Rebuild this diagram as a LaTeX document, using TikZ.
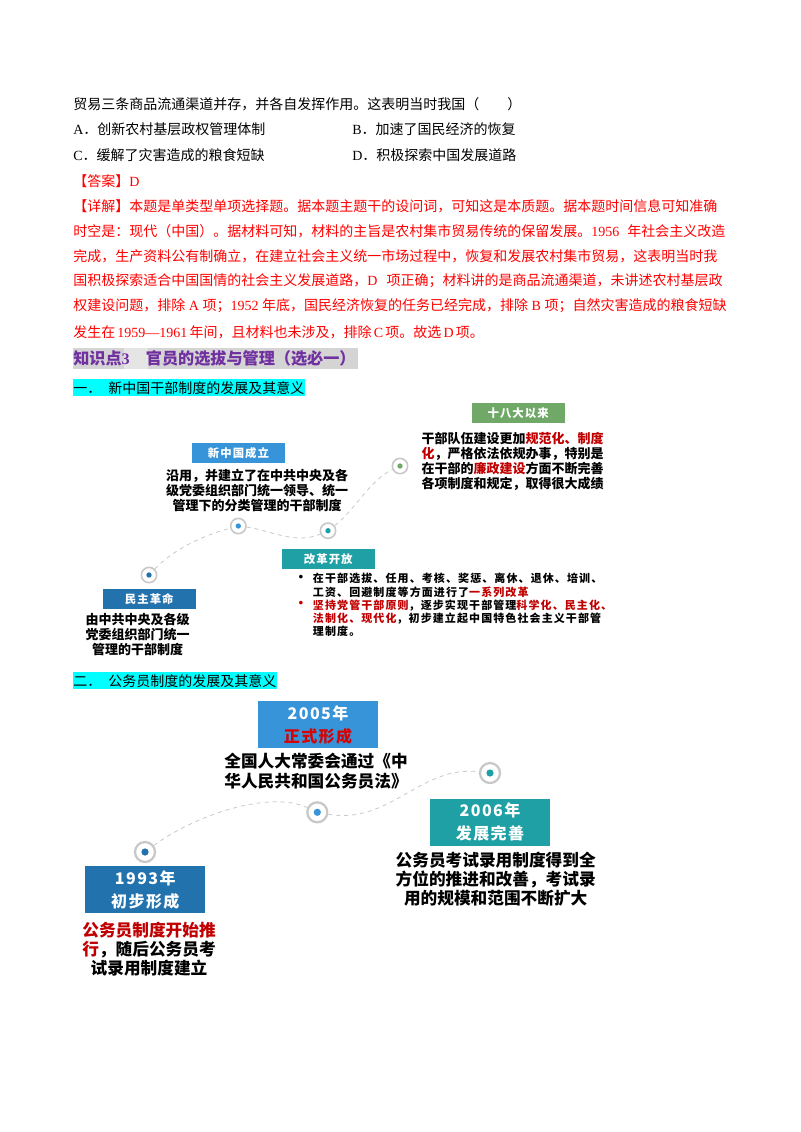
\documentclass[tikz,border=0pt]{standalone}
\usepackage{fontspec}
\setmainfont{Liberation Serif}
\newfontfamily\cjk{Noto Sans CJK SC}
\newfontfamily\cjkwide[LetterSpace=9]{Noto Sans CJK SC}
\newfontfamily\cjksmall[LetterSpace=10]{Noto Sans CJK SC}
\XeTeXlinebreaklocale "zh"
\XeTeXlinebreakskip=0pt plus 3pt minus 0.5pt
\definecolor{blueone}{HTML}{2272AE}
\definecolor{bluetwo}{HTML}{3894D8}
\definecolor{tealone}{HTML}{1FA0A5}
\definecolor{greenone}{HTML}{70A868}
\definecolor{ringgray}{HTML}{C8C8C8}
\definecolor{darkred}{HTML}{C00000}
\definecolor{purpleone}{HTML}{7030A0}
\definecolor{aquaback}{HTML}{00FFFF}
\tikzstyle{bodytext}=[anchor=west, inner sep=0pt, font=\fontsize{10.5}{12}\selectfont\cjk]
\tikzstyle{smallbox}=[inner sep=0pt, minimum width=69.75pt, minimum height=14.6pt, text=white, font=\fontsize{8.55}{9}\selectfont\cjkwide\bfseries]
\tikzstyle{bigbox}=[inner sep=0pt, align=center, minimum width=90pt, minimum height=35.5pt, text=white, font=\fontsize{12}{17.5}\selectfont\cjkwide\bfseries]
\tikzstyle{notetext}=[inner sep=0pt, align=center, font=\fontsize{9.75}{11.25}\selectfont\cjk\bfseries]
\tikzstyle{bigtext}=[inner sep=0pt, align=center, font=\fontsize{12.5}{14.3}\selectfont\cjk\bfseries]
\tikzstyle{listtext}=[inner sep=0pt, align=left, anchor=north west, font=\fontsize{8.25}{9.9}\selectfont\cjksmall\bfseries]
\tikzstyle{ringsmall}=[circle, draw=ringgray, line width=1.2pt, fill=white, inner sep=0pt, minimum size=11.5pt]
\tikzstyle{ringbig}=[circle, draw=ringgray, line width=1.7pt, fill=white, inner sep=0pt, minimum size=15pt]
\tikzstyle{dotsmall}=[circle, inner sep=0pt, minimum size=4pt]
\tikzstyle{dotbig}=[circle, inner sep=0pt, minimum size=5.4pt]
\tikzstyle{linkline}=[draw=ringgray, dashed, line width=0.6pt]
\newcommand{\bodyline}{\node[bodytext]}
\newcommand{\fit}[2]{\makebox[#1pt][s]{#2}}
\newcommand{\lat}[1]{{\rmfamily #1}}
\newcommand{\hl}[1]{\textcolor{darkred}{#1}}
\begin{document}
\begin{tikzpicture}[x=0.75pt, y=-0.75pt]
            \useasboundingbox (0,0) rectangle (800,1132);
            \bodyline (q1) at (73,104) {\fit{329}{贸易三条商品流通渠道并存，并各自发挥作用。这表明当时我国（\quad\quad）}};
            \bodyline (a) at (73,129) {\fit{145}{\lat{A}．创新农村基层政权管理体制}};
            \bodyline (b) at (352,129) {\fit{124}{\lat{B}．加速了国民经济的恢复}};
            \bodyline (c) at (73,155) {\fit{144}{\lat{C}．缓解了灾害造成的粮食短缺}};
            \bodyline (d) at (352,155) {\fit{125}{\lat{D}．积极探索中国发展道路}};
            \bodyline[text=red] (ans) at (73,181) {【答案】\lat{D}};
            \bodyline[text=red] (r1) at (73,206) {\fit{487}{【详解】本题是单类型单项选择题。据本题主题干的设问词，可知这是本质题。据本题时间信息可知准确}};
            \bodyline[text=red] (r2) at (73,231) {\fit{489}{时空是：现代（中国）。据材料可知，材料的主旨是农村集市贸易传统的保留发展。\lat{1956} 年社会主义改造}};
            \bodyline[text=red] (r3) at (73,256) {\fit{487}{完成，生产资料公有制确立，在建立社会主义统一市场过程中，恢复和发展农村集市贸易，这表明当时我}};
            \bodyline[text=red] (r4) at (73,281) {\fit{487}{国积极探索适合中国国情的社会主义发展道路，\lat{D} 项正确；材料讲的是商品流通渠道，未讲述农村基层政}};
            \bodyline[text=red] (r5) at (73,306) {\fit{490}{权建设问题，排除 \lat{A} 项；\lat{1952} 年底，国民经济恢复的任务已经完成，排除 \lat{B} 项；自然灾害造成的粮食短缺}};
            \bodyline[text=red] (r6) at (73,332) {\fit{308}{发生在 \lat{1959—1961} 年间，且材料也未涉及，排除 \lat{C} 项。故选 \lat{D} 项。}};
            \fill[black!17] (73,348) rectangle (358,369);
            \fill[black!10] (124,348) rectangle (148,369);
            \bodyline[text=purpleone, font=\fontsize{12.1}{14}\selectfont\cjk\bfseries] (head) at (73,358.5) {知识点\lat{3}\hspace{1em}官员的选拔与管理（选必一）};
            \fill[aquaback] (73,379) rectangle (305,396);
            \bodyline (sub1) at (73,388) {一．\hspace{0.5em}新中国干部制度的发展及其意义};
            \fill[aquaback] (73,672) rectangle (277,689);
            \bodyline (sub2) at (73,681) {二．\hspace{0.5em}公务员制度的发展及其意义};

            \node[ringsmall] (n1) at (149,575) {};
            \node[ringsmall] (n2) at (238.3,526) {};
            \node[ringsmall] (n3) at (328,530.7) {};
            \node[ringsmall] (n4) at (400,466) {};
            \path[linkline]
                (n1) .. controls (175,548) and (205,535) .. (n2)
                (n2) .. controls (270,530) and (295,545) .. (n3)
                (n3) .. controls (355,510) and (370,480) .. (n4)
            ;
            \node[dotsmall, fill=blueone] (d1) at (n1) {};
            \node[dotsmall, fill=bluetwo] (d2) at (n2) {};
            \node[dotsmall, fill=tealone] (d3) at (n3) {};
            \node[dotsmall, fill=greenone] (d4) at (n4) {};
            \node[smallbox, fill=blueone] (t1) at (149.3,598.8) {民主革命};
            \node[smallbox, fill=bluetwo] (t2) at (238.5,453) {新中国成立};
            \node[smallbox, fill=tealone] (t3) at (328.3,559.2) {改革开放};
            \node[smallbox, fill=greenone] (t4) at (518.2,413) {十八大以来};
            \node[notetext] (x1) at (137.5,634.3) {由中共中央及各级\\党委组织部门统一\\管理的干部制度};
            \node[notetext] (x2) at (257,490) {沿用，并建立了在中共中央及各\\级党委组织部门统一领导、统一\\管理下的分类管理的干部制度};
            \node[notetext, align=left] (x4) at (512.5,461.8) {干部队伍建设更加\hl{规范化、制度}\\\hl{化}，严格依法依规办事，特别是\\在干部的\hl{廉政建设}方面不断完善\\各项制度和规定，取得很大成绩};
            \node[listtext] (x3) at (312.7,573) {在干部选拔、任用、考核、奖惩、离休、退休、培训、\\工资、回避制度等方面进行了\hl{一系列改革}\\\hl{坚持党管干部原则}，逐步实现干部管理\hl{科学化、民主化、}\\\hl{法制化、现代化}，初步建立起中国特色社会主义干部管\\理制度。};
            \node[inner sep=0pt, font=\bfseries] (b1) at (301,578.3) {•};
            \node[inner sep=0pt, font=\bfseries, text=darkred] (b2) at (301,604.3) {•};

            \node[ringbig] (m1) at (145,852) {};
            \node[ringbig] (m2) at (317.3,812.3) {};
            \node[ringbig] (m3) at (490,773) {};
            \path[linkline]
                (m1) .. controls (195,815) and (270,790) .. (m2)
                (m2) .. controls (390,825) and (420,765) .. (m3)
            ;
            \node[dotbig, fill=blueone] (e1) at (m1) {};
            \node[dotbig, fill=bluetwo] (e2) at (m2) {};
            \node[dotbig, fill=tealone] (e3) at (m3) {};
            \node[bigbox, fill=blueone] (y1) at (145.3,889.7) {1993年\\初步形成};
            \node[bigbox, fill=bluetwo] (y2) at (318,724.8) {2005年\\\textcolor{red!85!black}{正式形成}};
            \node[bigbox, fill=tealone] (y3) at (490,822.2) {2006年\\发展完善};
            \node[bigtext] (z1) at (149,949.5) {\hl{公务员制度开始推}\\\hl{行}，随后公务员考\\试录用制度建立};
            \node[bigtext, align=left] (z2) at (316,771.2) {全国人大常委会通过《中\\华人民共和国公务员法》};
            \node[bigtext] (z3) at (495.7,879) {公务员考试录用制度得到全\\方位的推进和改善，考试录\\用的规模和范围不断扩大};
        \end{tikzpicture}
\end{document}
